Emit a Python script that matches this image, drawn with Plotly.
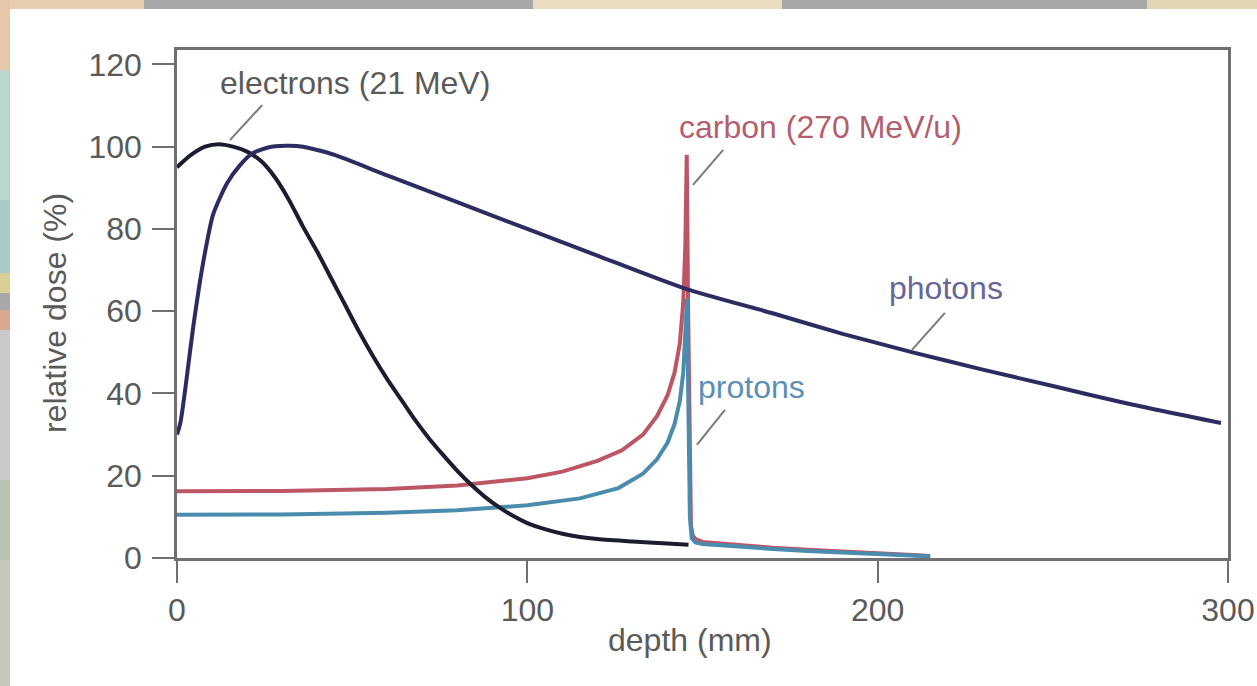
import plotly.graph_objects as go

# ---------------- data ----------------
photon_depth = [0, 1, 2.5, 4.6, 7.5, 10.3, 14.2, 18, 21.4, 26, 31, 36, 45, 60, 80, 100,
                120, 145, 170, 190, 210, 230, 250, 270, 298]
photon_dose = [30, 33, 42, 56, 72, 83.5, 91, 95.5, 98.3, 99.8, 100.2, 100, 98, 93, 86.5, 80,
               73.5, 65.5, 59.5, 54.5, 50, 45.8, 41.8, 37.8, 32.8]

electron_depth = [0, 4, 8, 12, 16, 20, 24, 28, 32, 36, 40, 44, 48, 52, 56, 60, 64, 68, 72,
                  76, 80, 84, 88, 92, 96, 100, 105, 110, 115, 120, 130, 140, 146]
electron_dose = [95, 98, 100, 100.6, 100, 98.8, 96.5, 92.5, 87, 80.5, 74.5, 68, 61.5, 55,
                 49, 43.5, 38.5, 33.5, 29, 25, 21.2, 17.8, 14.8, 12.3, 10.2, 8.5, 7, 5.9,
                 5.1, 4.6, 4.0, 3.5, 3.2]

carbon_depth = [0, 30, 60, 80, 100, 110, 120, 127, 133, 137, 140, 142, 143.5, 144.5, 145.1,
                145.5, 145.9, 146.3, 146.7, 147.2, 148, 150, 160, 170, 180, 190, 200, 210, 215]
carbon_dose = [16.2, 16.3, 16.8, 17.6, 19.4, 21, 23.6, 26.2, 30, 34.5, 39.5, 45, 52, 62, 76,
               98, 60, 22, 8, 5.5, 4.6, 3.9, 3.1, 2.5, 2, 1.5, 1.1, 0.7, 0.5]

proton_depth = [0, 30, 60, 80, 100, 115, 126, 133, 137, 140, 142, 143.5, 144.5, 145.2, 145.6,
                146.0, 146.4, 146.9, 148, 150, 160, 170, 180, 190, 200, 210, 215]
proton_dose = [10.5, 10.6, 11, 11.6, 12.8, 14.5, 17, 20.5, 24, 28, 32.5, 38, 45, 55, 63,
               35, 10, 4.8, 3.8, 3.4, 2.7, 2.2, 1.7, 1.3, 0.9, 0.6, 0.4]

x_ticks = [0, 100, 200, 300]
y_ticks = [0, 20, 40, 60, 80, 100, 120]

labels = {
    "electrons": "electrons (21 MeV)",
    "carbon": "carbon (270 MeV/u)",
    "photons": "photons",
    "protons": "protons",
}

# ---------------- styles ----------------
FONT = "Liberation Sans, Arial, sans-serif"
FS = 32
C_PHOTON = "#2c2c62"
C_ELECTRON = "#1c1c30"
C_CARBON = "#bd5664"
C_PROTON = "#4b8cae"
TXT = "#5a5a5a"

W, H = 1257, 686
L, R, T, B = 177, 29, 50, 128
PW, PH = W - L - R, H - T - B


def px(xp):
    return (xp - L) / PW


def py(yp):
    return (H - B - yp) / PH


fig = go.Figure()
fig.add_trace(go.Scatter(x=carbon_depth, y=carbon_dose, mode="lines",
                         line=dict(color=C_CARBON, width=4), hoverinfo="skip"))
fig.add_trace(go.Scatter(x=proton_depth, y=proton_dose, mode="lines",
                         line=dict(color=C_PROTON, width=4), hoverinfo="skip"))
fig.add_trace(go.Scatter(x=electron_depth, y=electron_dose, mode="lines",
                         line=dict(color=C_ELECTRON, width=4, shape="spline", smoothing=0.8),
                         hoverinfo="skip"))
fig.add_trace(go.Scatter(x=photon_depth, y=photon_dose, mode="lines",
                         line=dict(color=C_PHOTON, width=4, shape="spline", smoothing=0.6),
                         hoverinfo="skip"))

shapes = []
# decorative blurred border (top strip + left strip)
top_segments = [(0, 144, "#e6cdb0"), (144, 533, "#a7a7a7"), (533, 782, "#e9dcc0"),
                (782, 1147, "#a7a7a7"), (1147, 1257, "#e2d6b2")]
for x0, x1, c in top_segments:
    shapes.append(dict(type="rect", xref="paper", yref="paper", x0=px(x0), x1=px(x1),
                       y0=py(9), y1=py(0), fillcolor=c, line=dict(width=0), layer="below"))
left_segments = [(0, 70, "#e6c8a8"), (70, 200, "#b9d6cf"), (200, 273, "#a7cbc9"),
                 (273, 293, "#d8d092"), (293, 310, "#a8a8a8"), (310, 330, "#d8a890"),
                 (330, 480, "#c9c9c9"), (480, 560, "#b8c4b0"), (560, 686, "#c4c8b8")]
for y0, y1, c in left_segments:
    shapes.append(dict(type="rect", xref="paper", yref="paper", x0=px(0), x1=px(10),
                       y0=py(y1), y1=py(y0), fillcolor=c, line=dict(width=0), layer="below"))

# label pointer lines
pointers = [((24.3, 110.1), (15.1, 101.6)),
            ((155.9, 99.2), (147.3, 90.7)),
            ((219.2, 59.6), (209.8, 50.6)),
            ((156.4, 36.0), (148.4, 27.5))]
for (xa, ya), (xb, yb) in pointers:
    shapes.append(dict(type="line", xref="x", yref="y", x0=xa, y0=ya, x1=xb, y1=yb,
                       line=dict(color="#7a7a7a", width=2)))

annotations = [
    dict(x=50.8, y=115.5, text=labels["electrons"], font=dict(color=TXT)),
    dict(x=183.6, y=104.8, text=labels["carbon"], font=dict(color="#b45f6e")),
    dict(x=219.5, y=65.6, text=labels["photons"], font=dict(color="#66669a")),
    dict(x=163.9, y=41.6, text=labels["protons"], font=dict(color="#5b8fb8")),
]
for a in annotations:
    a.update(xref="x", yref="y", showarrow=False, xanchor="center", yanchor="middle")
    a["font"].update(family=FONT, size=FS)

annotations.append(dict(xref="paper", yref="paper", x=px(690), y=py(640), text="depth (mm)",
                        showarrow=False, xanchor="center", yanchor="middle",
                        font=dict(family=FONT, size=FS, color=TXT)))
annotations.append(dict(xref="paper", yref="paper", x=px(55), y=py(313),
                        text="relative dose (%)", textangle=-90, showarrow=False,
                        xanchor="center", yanchor="middle",
                        font=dict(family=FONT, size=FS, color=TXT)))

axis_common = dict(showline=True, mirror=True, linecolor="#707070", linewidth=2.5,
                   showgrid=False, zeroline=False, ticks="outside", ticklen=22,
                   tickwidth=2, tickcolor="#707070", automargin=False,
                   tickfont=dict(family=FONT, size=FS, color=TXT))

fig.update_layout(
    width=W, height=H,
    margin=dict(l=L, r=R, t=T, b=B, autoexpand=False),
    paper_bgcolor="white", plot_bgcolor="white",
    showlegend=False,
    shapes=shapes,
    annotations=annotations,
    xaxis=dict(range=[0, 300], tickvals=x_ticks, **axis_common),
    yaxis=dict(range=[0, 123.5], tickvals=y_ticks, ticklabelstandoff=4, **axis_common),
)

fig.write_html("out.html", config={"displayModeBar": False},
               post_script="document.body.style.margin='0';document.body.style.overflow='hidden';")
